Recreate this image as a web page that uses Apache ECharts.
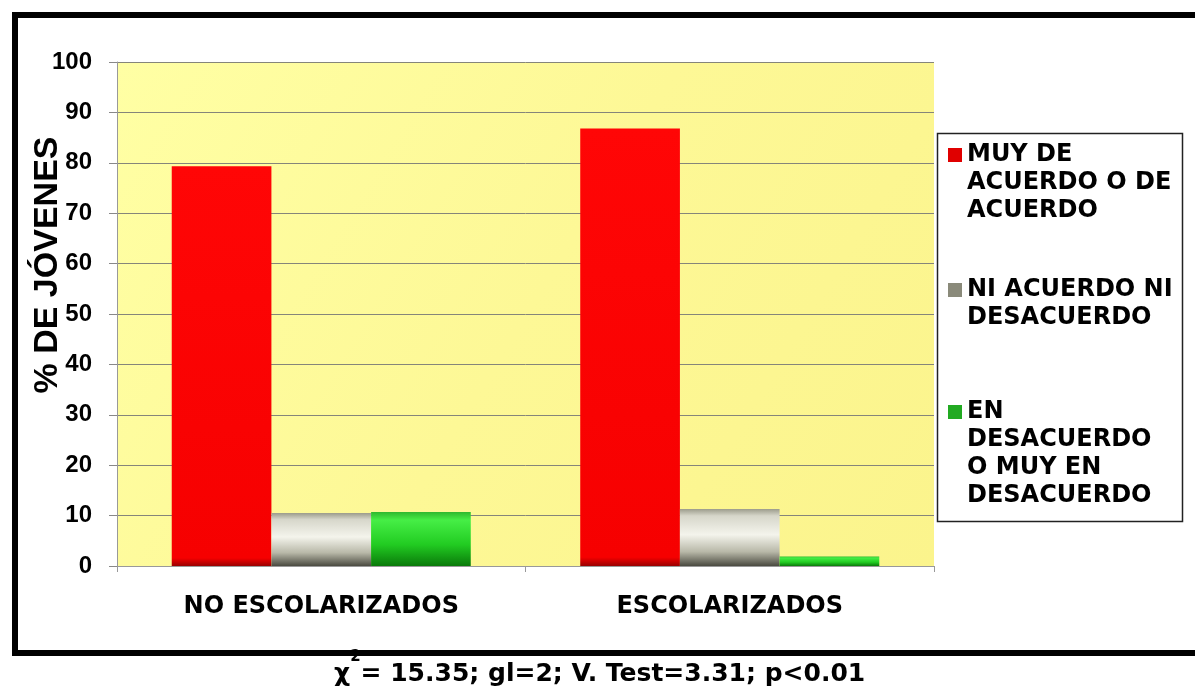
<!DOCTYPE html>
<html>
<head>
<meta charset="utf-8">
<script src="https://cdn.jsdelivr.net/npm/echarts@6/dist/echarts.min.js"></script>
<style>
  html, body { margin: 0; padding: 0; background: #fff; }
  #chart { width: 1195px; height: 691px; }
</style>
</head>
<body>
<div id="chart"></div>
<script>
// datos
const categories = ['NO ESCOLARIZADOS', 'ESCOLARIZADOS'];
const seriesNames = [
  'MUY DE\nACUERDO O DE\nACUERDO',
  'NI ACUERDO NI\nDESACUERDO',
  'EN\nDESACUERDO\nO MUY EN\nDESACUERDO'
];
const deAcuerdo = [79.3, 86.8];
const niAcuerdo = [10.5, 11.3];
const enDesacuerdo = [10.7, 1.9];
const yTicks = [0, 100, 10]; // min, max, intervalo

const chart = echarts.init(document.getElementById('chart'));

const wideFont = 'DejaVu Sans';
const armFont = 'Liberation Sans';

const grad = (stops) => new echarts.graphic.LinearGradient(0, 0, 0, 1,
  stops.map(([offset, color]) => ({ offset, color })));

const colors = [
  grad([[0, '#FF0606'], [0.98, '#F60000'], [1, '#9A0000']]),
  grad([[0, '#9C9C8C'], [0.12, '#D6D6CA'], [0.45, '#F4F4EC'], [0.75, '#B8B8A8'], [1, '#4A4A40']]),
  grad([[0, '#2EB82E'], [0.15, '#46EE46'], [0.6, '#22CC22'], [1, '#0A7A0A']])
];
const iconColors = ['#E00000', '#8A8A7A', '#22AA22'];

// leyenda: una por elemento; el icono es un cuadrado arriba de un marco alto
// para que quede a la altura de la primera línea del texto
const lineH = 28;
const iconSize = 14;
const legendIconCenters = [155, 290, 412];
const legends = seriesNames.map((name, i) => {
  const n = name.split('\n').length;
  const h = iconSize + (n - 1) * lineH;
  return {
    orient: 'vertical',
    left: 948,
    top: legendIconCenters[i] - iconSize,
    padding: 0,
    itemWidth: iconSize,
    itemHeight: h,
    selectedMode: false,
    textStyle: {
      fontFamily: wideFont, fontWeight: 'bold', fontSize: 24,
      lineHeight: lineH, color: '#000'
    },
    data: [{
      name,
      icon: `path://M0,0h${iconSize}v${iconSize}h-${iconSize}z M0,${h - 0.01}h0.01v0.01h-0.01z`,
      itemStyle: { color: iconColors[i] }
    }]
  };
});

const values = [deAcuerdo, niAcuerdo, enDesacuerdo];

chart.setOption({
  backgroundColor: '#fff',
  animation: false,
  title: {
    left: 334,
    top: 650,
    padding: 0,
    text: '{a|χ}{s|2}{a|= 15.35; gl=2; V. Test=3.31; p<0.01}',
    textStyle: {
      rich: {
        a: { fontFamily: wideFont, fontWeight: 'bold', fontSize: 25, lineHeight: 48, color: '#000' },
        s: { fontFamily: wideFont, fontWeight: 'bold', fontSize: 15, lineHeight: 17, verticalAlign: 'top', color: '#000' }
      }
    }
  },
  legend: legends,
  grid: {
    left: 117, right: 261, top: 62, bottom: 125,
    show: true,
    borderWidth: 0,
    backgroundColor: new echarts.graphic.LinearGradient(0, 0, 1, 1, [
      { offset: 0, color: '#FFFFA4' },
      { offset: 0.5, color: '#FDF896' },
      { offset: 1, color: '#FBF48C' }
    ])
  },
  xAxis: {
    type: 'category',
    data: categories,
    axisLine: { lineStyle: { color: '#999', width: 1 } },
    axisTick: { show: true, length: 6, lineStyle: { color: '#999' } },
    axisLabel: {
      margin: 29,
      color: '#000',
      fontFamily: wideFont, fontWeight: 'bold', fontSize: 24
    }
  },
  yAxis: {
    type: 'value',
    min: yTicks[0],
    max: yTicks[1],
    interval: yTicks[2],
    name: '% DE JÓVENES',
    nameLocation: 'middle',
    nameGap: 52,
    nameMoveOverlap: false,
    nameRotate: 90,
    nameTextStyle: {
      fontFamily: armFont, fontWeight: 'bold', fontSize: 34, color: '#000',
      padding: [0, 0, 0, 98]
    },
    axisLine: { show: true, lineStyle: { color: '#999', width: 1 } },
    axisTick: { show: true, length: 8, lineStyle: { color: '#888' } },
    axisLabel: {
      margin: 25,
      color: '#000',
      fontFamily: armFont, fontWeight: 'bold', fontSize: 24
    },
    splitLine: { lineStyle: { color: '#85857a', width: 1 } }
  },
  series: seriesNames.map((name, i) => ({
    name,
    type: 'bar',
    barGap: '0%',
    barCategoryGap: '26.8%',
    data: values[i],
    itemStyle: { color: colors[i] }
  })),
  graphic: [
    {
      type: 'rect',
      shape: { x: 15, y: 15, width: 1200, height: 638 },
      style: { fill: 'transparent', stroke: '#000', lineWidth: 6 },
      z: 100
    },
    {
      type: 'rect',
      shape: { x: 937.5, y: 133.5, width: 245, height: 388 },
      style: { fill: 'transparent', stroke: '#222', lineWidth: 1.5 },
      z: 100
    }
  ]
});

window.addEventListener('resize', () => chart.resize());
</script>
</body>
</html>
